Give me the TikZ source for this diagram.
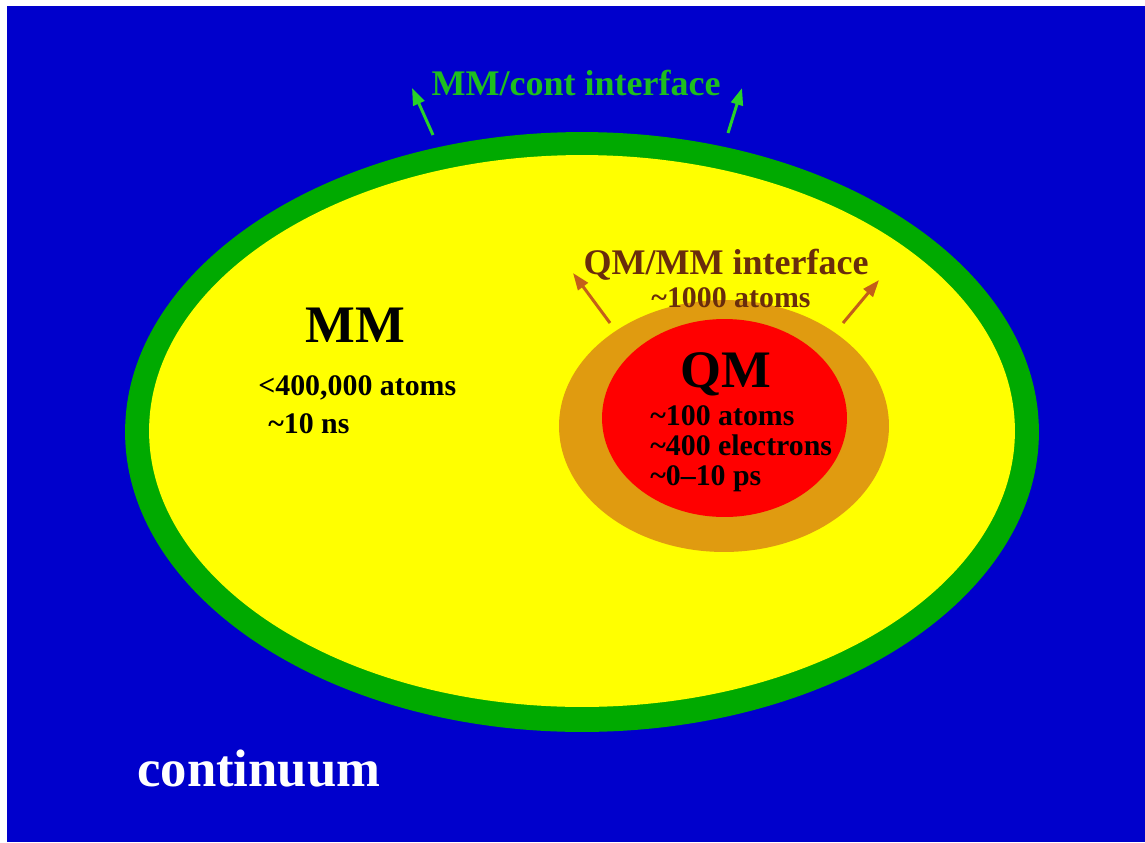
\documentclass[tikz,border=0pt]{standalone}
\usepackage{fontspec}
\setmainfont{Liberation Serif}
\usetikzlibrary{shapes.geometric,arrows.meta}
\definecolor{bgblue}{RGB}{0,0,204}
\definecolor{ringgreen}{RGB}{0,170,0}
\definecolor{mmyellow}{RGB}{255,255,0}
\definecolor{ifaceorange}{RGB}{224,155,16}
\definecolor{qmred}{RGB}{255,0,0}
\definecolor{browntext}{RGB}{105,45,12}
\definecolor{brownarrow}{RGB}{195,95,25}
\definecolor{arrowgreen}{RGB}{40,210,40}
\definecolor{textgreen}{RGB}{30,190,30}
\begin{document}
\begin{tikzpicture}[x=0.02cm,y=-0.02cm,
  region/.style={ellipse, inner sep=0pt, draw=none},
  lbl/.style={inner sep=0pt},
  bigfont/.style={font=\bfseries\fontsize{30}{34}\selectfont},
  midfont/.style={font=\bfseries\fontsize{20.5}{24}\selectfont},
  smallfont/.style={font=\bfseries\fontsize{17}{20}\selectfont},
  garrow/.style={arrowgreen, line width=1.7pt, -{Triangle[length=0.34cm,width=0.24cm]}},
  barrow/.style={brownarrow, line width=1.7pt, -{Triangle[length=0.34cm,width=0.24cm]}}]
\useasboundingbox (0,0) rectangle (1145,842);
\fill[white] (0,0) rectangle (1145,842);
\fill[bgblue] (7,6) rectangle (1145,842);
% regions
\node[region, fill=ringgreen, minimum width=18.28cm, minimum height=12cm] (mmcont) at (582,432) {};
\node[region, fill=mmyellow, minimum width=17.32cm, minimum height=11.04cm] (mm) at (582,431) {};
\node[region, fill=ifaceorange, minimum width=6.6cm, minimum height=5.04cm] (qmmm) at (724,426) {};
\node[region, fill=qmred, minimum width=4.9cm, minimum height=3.96cm] (qm) at (724.5,418) {};
% arrows
\coordinate (g1s) at (433,135);
\coordinate (g1e) at (412,88);
\coordinate (g2s) at (728,133);
\coordinate (g2e) at (742,88);
\draw[garrow] (g1s) -- (g1e);
\draw[garrow] (g2s) -- (g2e);
\coordinate (b1s) at (610,323);
\coordinate (b1e) at (573,273);
\coordinate (b2s) at (843,323);
\coordinate (b2e) at (879,280);
\draw[barrow] (b1s) -- (b1e);
\draw[barrow] (b2s) -- (b2e);
% labels
\node[lbl, midfont, text=textgreen, anchor=base] (tcont) at (576,95) {MM/cont interface};
\node[lbl, midfont, text=browntext, anchor=base, text depth=0pt] (tqmmm) at (726,274) {QM/MM interface};
\node[lbl, smallfont, text=browntext, anchor=base] (tqmmmn) at (731,307) {\textasciitilde1000 atoms};
\node[lbl, bigfont, anchor=base] (tqm) at (726,387) {QM};
\node[lbl, smallfont, anchor=base west] (tqm1) at (650,425) {\textasciitilde100 atoms};
\node[lbl, smallfont, anchor=base west] (tqm2) at (650,455) {\textasciitilde400 electrons};
\node[lbl, smallfont, anchor=base west] (tqm3) at (650,485) {\textasciitilde0--10 ps};
\node[lbl, bigfont, anchor=base] (tmm) at (355,342) {MM};
\node[lbl, smallfont, anchor=base west] (tmm1) at (258,395) {<400,000 atoms};
\node[lbl, smallfont, anchor=base west] (tmm2) at (268,433) {\textasciitilde10 ns};
\node[lbl, bigfont, text=white, anchor=base west] (tcontin) at (137,786) {continuum};
\end{tikzpicture}
\end{document}
